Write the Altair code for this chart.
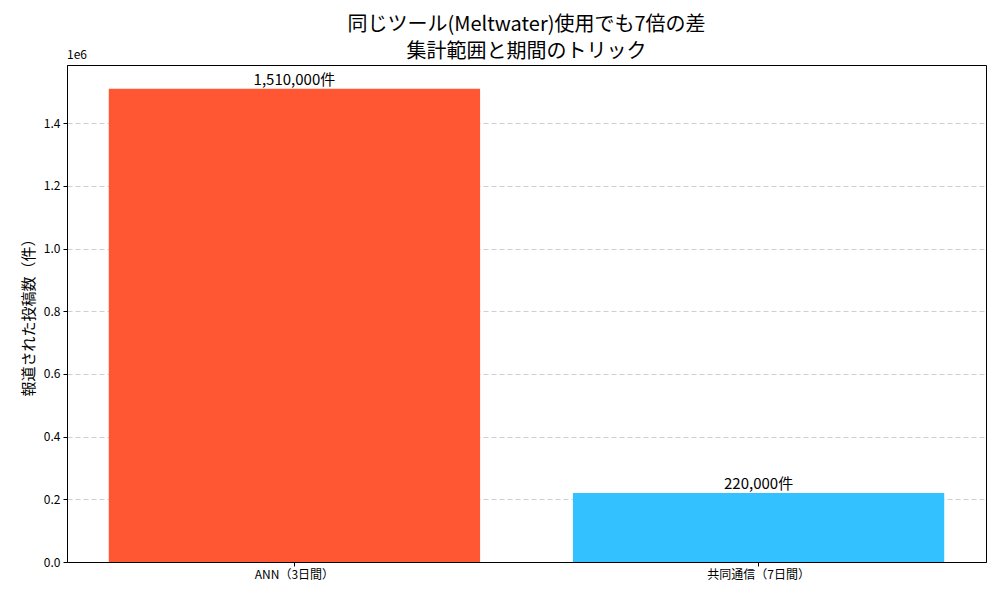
import altair as alt
import pandas as pd

categories = ["ANN（3日間）", "共同通信（7日間）"]
values = [1510000, 220000]
labels = ["1,510,000件", "220,000件"]
colors = ["#FF5733", "#33C1FF"]
y_ticks = [0, 200000, 400000, 600000, 800000, 1000000, 1200000, 1400000]
title_lines = ["同じツール(Meltwater)使用でも7倍の差", "集計範囲と期間のトリック"]

df = pd.DataFrame({"cat": categories, "value": values, "label": labels, "color": colors})

FONT = "Noto Sans CJK JP"
ymax = max(values) * 1.05

x = alt.X("cat:N", sort=categories, title=None,
          scale=alt.Scale(paddingInner=0.2, paddingOuter=0.09),
          axis=alt.Axis(labelAngle=0, labelFontSize=12, labelColor="black",
                        domainColor="black", tickColor="black", tickSize=4,
                        labelPadding=3, grid=False))
y = alt.Y("value:Q", title="報道された投稿数（件）",
          scale=alt.Scale(domain=[0, ymax], nice=False, zero=True),
          axis=alt.Axis(values=y_ticks, labelExpr="format(datum.value / 1000000, '.1f')",
                        labelFontSize=12, labelColor="black", titleFontSize=15,
                        titleFontWeight="normal", titleColor="black",
                        domainColor="black", tickColor="black", tickSize=4,
                        labelPadding=3, titlePadding=7,
                        grid=True, gridDash=[5, 3], gridColor="#c4c4c4", gridWidth=0.8))

bars = alt.Chart(df).mark_bar().encode(
    x=x, y=y, color=alt.Color("color:N", scale=None, legend=None)
)

text = alt.Chart(df).mark_text(baseline="bottom", fontSize=15, font=FONT, color="black", dy=-1).encode(
    x=alt.X("cat:N", sort=categories), y="value:Q", text="label:N"
)

offset = alt.Chart(pd.DataFrame({"t": ["1e6"]})).mark_text(
    align="left", baseline="bottom", fontSize=12, font=FONT, color="black"
).encode(x=alt.value(0), y=alt.value(-3), text="t:N")

chart = alt.layer(bars, text, offset).properties(
    width=919, height=497,
    title=alt.TitleParams(title_lines,
                          fontSize=20, font=FONT, fontWeight="normal", color="black",
                          anchor="middle", offset=-13, lineHeight=27),
    autosize=alt.AutoSizeParams(type="none"),
    padding={"left": 59, "top": 57, "right": 6, "bottom": 30},
).configure(font=FONT).configure_view(stroke="black", strokeWidth=1)

chart.save("out.html", embed_options={"renderer": "svg", "actions": False})
